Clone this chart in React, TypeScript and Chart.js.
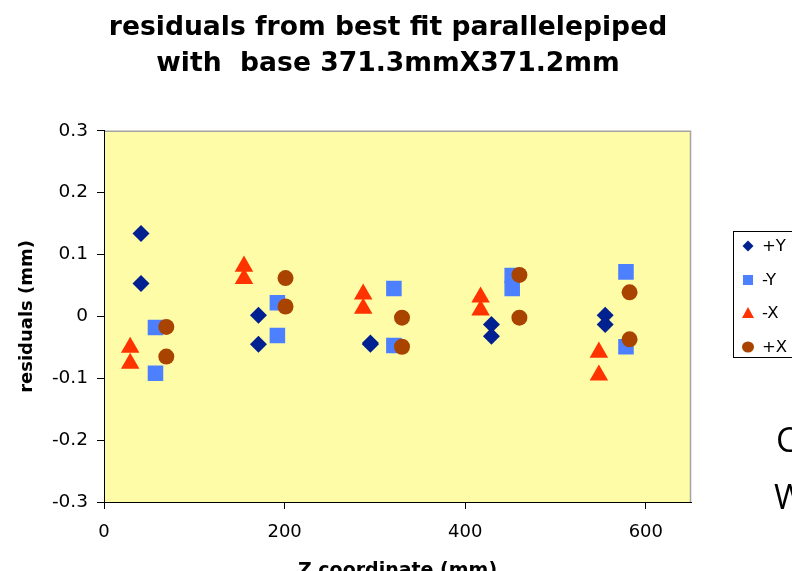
import React, { useEffect, useRef } from "react";
import { Chart, registerables } from "chart.js";

Chart.register(...registerables);

// ---- data ----
const titleLines = ["residuals from best fit parallelepiped", "with  base 371.3mmX371.2mm"];
const xAxisTitle = "Z coordinate (mm)";
const yAxisTitle = "residuals (mm)";
const seriesNames = ["+Y", "-Y", "-X", "+X"];

const plusYZ = [41, 41, 171, 171, 295, 295, 429, 429, 555, 555];
const plusYRes = [0.134, 0.053, 0.002, -0.045, -0.043, -0.045, -0.013, -0.032, 0.002, -0.013];

const minusYZ = [57, 57, 192, 192, 321, 321, 452, 452, 578, 578];
const minusYRes = [-0.018, -0.092, 0.022, -0.031, 0.045, -0.047, 0.066, 0.045, 0.072, -0.049];

const minusXZ = [29, 29, 155, 155, 287, 287, 417, 417, 548, 548];
const minusXRes = [-0.05, -0.076, 0.081, 0.061, 0.036, 0.013, 0.031, 0.01, -0.058, -0.095];

const plusXZ = [69, 69, 201, 201, 330, 330, 460, 460, 582, 582];
const plusXRes = [-0.017, -0.065, 0.062, 0.016, -0.002, -0.049, 0.067, -0.002, 0.039, -0.037];

const xTickValues = [0, 200, 400, 600];
const xTickLabels = ["0", "200", "400", "600"];
const yTickValues = [-0.3, -0.2, -0.1, 0, 0.1, 0.2, 0.3];
const yTickLabels = ["-0.3", "-0.2", "-0.1", "0", "0.1", "0.2", "0.3"];

const sideTexts = ["C", "W"];

const COLORS = {
  plusY: "#00218F",
  minusY: "#4D80FF",
  minusX: "#FF3300",
  plusX: "#A94400",
  plotBg: "#FFFCA8",
};

const toPoints = (xs: number[], ys: number[]) => xs.map((x, i) => ({ x, y: ys[i] }));

const plotBgPlugin = {
  id: "plotBg",
  beforeDraw(chart: any) {
    const { ctx, chartArea } = chart;
    const { left, top, right, bottom } = chartArea;
    ctx.save();
    ctx.fillStyle = COLORS.plotBg;
    ctx.fillRect(left, top, right - left, bottom - top);
    ctx.strokeStyle = "#a3a3a3";
    ctx.lineWidth = 1.5;
    ctx.beginPath();
    ctx.moveTo(left, top + 0.5);
    ctx.lineTo(right - 0.5, top + 0.5);
    ctx.lineTo(right - 0.5, bottom);
    ctx.stroke();
    ctx.restore();
  },
};

function LegendMarker({ kind, color }: { kind: string; color: string }) {
  let shape: any = null;
  if (kind === "diamond") shape = <polygon points="6,0.5 11.5,6 6,11.5 0.5,6" fill={color} />;
  else if (kind === "square") shape = <rect x="1" y="1" width="10" height="10" fill={color} />;
  else if (kind === "triangle") shape = <polygon points="6,0 12,11 0,11" fill={color} />;
  else shape = <ellipse cx="6" cy="6" rx="6" ry="5.5" fill={color} />;
  return (
    <svg width="12" height="12" style={{ display: "block" }}>
      {shape}
    </svg>
  );
}

export default function App() {
  const canvasRef = useRef<HTMLCanvasElement | null>(null);

  useEffect(() => {
    if (!canvasRef.current) return;
    const tickFont = { family: "'DejaVu Sans', sans-serif", size: 18 };
    const chart = new Chart(canvasRef.current, {
      type: "scatter",
      data: {
        datasets: [
          {
            label: seriesNames[0],
            data: toPoints(plusYZ, plusYRes),
            pointStyle: "rectRot",
            pointRadius: 8.5,
            backgroundColor: COLORS.plusY,
            borderColor: COLORS.plusY,
            borderWidth: 0,
            order: 4,
          },
          {
            label: seriesNames[1],
            data: toPoints(minusYZ, minusYRes),
            pointStyle: "rect",
            pointRadius: 11,
            backgroundColor: COLORS.minusY,
            borderColor: COLORS.minusY,
            borderWidth: 0,
            order: 3,
          },
          {
            label: seriesNames[2],
            data: toPoints(minusXZ, minusXRes),
            pointStyle: "triangle",
            pointRadius: 10.7,
            backgroundColor: COLORS.minusX,
            borderColor: COLORS.minusX,
            borderWidth: 0,
            order: 2,
          },
          {
            label: seriesNames[3],
            data: toPoints(plusXZ, plusXRes),
            pointStyle: "circle",
            pointRadius: 8,
            backgroundColor: COLORS.plusX,
            borderColor: COLORS.plusX,
            borderWidth: 0,
            order: 1,
          },
        ],
      },
      options: {
        animation: false,
        responsive: false,
        devicePixelRatio: 1,
        layout: { padding: { top: 0, right: 16, bottom: 0, left: 0 } },
        plugins: {
          legend: { display: false },
          tooltip: { enabled: false },
          title: {
            display: true,
            text: titleLines,
            color: "#000",
            font: { family: "'DejaVu Sans', sans-serif", size: 26.6, weight: "bold", lineHeight: 1.35 },
            padding: { top: 10, bottom: 49 },
          },
        },
        scales: {
          x: {
            type: "linear",
            min: 0,
            max: 650,
            afterBuildTicks: (scale: any) => {
              scale.ticks = xTickValues.map((v) => ({ value: v }));
            },
            afterFit: (scale: any) => {
              scale.height = 98;
            },
            grid: { display: true, drawOnChartArea: false, drawTicks: true, tickLength: 7, color: "#000" },
            border: { display: true, color: "#000", width: 1 },
            ticks: {
              color: "#000",
              font: tickFont,
              padding: 13,
              maxRotation: 0,
              autoSkip: false,
              callback: (v: any) => xTickLabels[xTickValues.indexOf(Number(v))] ?? "",
            },
            title: {
              display: true,
              text: xAxisTitle,
              color: "#000",
              font: { family: "'DejaVu Sans', sans-serif", size: 19, weight: "bold" },
              padding: { top: 0, bottom: 18 },
            },
          },
          y: {
            type: "linear",
            min: -0.3,
            max: 0.3,
            afterBuildTicks: (scale: any) => {
              scale.ticks = yTickValues.map((v) => ({ value: v }));
            },
            afterFit: (scale: any) => {
              scale.width = 104;
            },
            grid: { display: true, drawOnChartArea: false, drawTicks: true, tickLength: 7, color: "#000" },
            border: { display: true, color: "#000", width: 1 },
            ticks: {
              color: "#000",
              font: { family: "'DejaVu Sans', sans-serif", size: 18.5 },
              padding: 9,
              autoSkip: false,
              callback: (v: any) => {
                const idx = yTickValues.findIndex((t) => Math.abs(t - Number(v)) < 1e-9);
                return idx >= 0 ? yTickLabels[idx] : "";
              },
            },
            title: {
              display: true,
              text: yAxisTitle,
              color: "#000",
              font: { family: "'DejaVu Sans', sans-serif", size: 18, weight: "bold" },
              padding: { top: 17, bottom: 0 },
            },
          },
          legendSpace: {
            type: "linear",
            axis: "y",
            position: "right",
            display: true,
            min: 0,
            max: 1,
            afterFit: (scale: any) => {
              scale.width = 85;
            },
            grid: { display: false, drawTicks: false },
            border: { display: false },
            ticks: { display: false },
          },
        },
      },
      plugins: [plotBgPlugin],
    } as any);
    return () => chart.destroy();
  }, []);

  const legendItems = [
    { name: seriesNames[0], kind: "diamond", color: COLORS.plusY },
    { name: seriesNames[1], kind: "square", color: COLORS.minusY },
    { name: seriesNames[2], kind: "triangle", color: COLORS.minusX },
    { name: seriesNames[3], kind: "circle", color: COLORS.plusX },
  ];

  return (
    <div
      style={{
        position: "absolute",
        left: 0,
        top: 0,
        width: 792,
        height: 571,
        overflow: "hidden",
        background: "#fff",
      }}
    >
      <canvas ref={canvasRef} width={792} height={600} style={{ position: "absolute", left: 0, top: 0 }} />
      <div
        style={{
          position: "absolute",
          left: 733,
          top: 231,
          width: 90,
          height: 127,
          border: "1px solid #000",
          boxSizing: "border-box",
          fontFamily: "'DejaVu Sans', sans-serif",
          fontSize: 16.5,
          color: "#000",
        }}
      >
        {legendItems.map((it, i) => (
          <div
            key={it.name}
            style={{
              position: "absolute",
              left: 8,
              top: 4 + i * 33.5,
              height: 20,
              display: "flex",
              alignItems: "center",
              whiteSpace: "nowrap",
            }}
          >
            <LegendMarker kind={it.kind} color={it.color} />
            <span style={{ marginLeft: 8, lineHeight: "20px" }}>{it.name}</span>
          </div>
        ))}
      </div>
      {sideTexts.map((t, i) => (
        <div
          key={t}
          style={{
            position: "absolute",
            left: i === 0 ? 776 : 774,
            top: i === 0 ? 422 : 479,
            fontFamily: "'Open Sans', sans-serif",
            fontSize: 34,
            lineHeight: "34px",
            color: "#000",
            whiteSpace: "nowrap",
          }}
        >
          {t}
        </div>
      ))}
    </div>
  );
}
